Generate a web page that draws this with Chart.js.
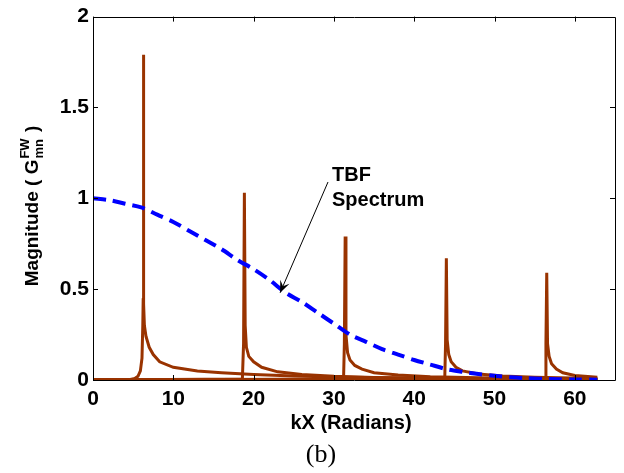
<!DOCTYPE html>
<html>
<head>
<meta charset="utf-8">
<script src="https://cdn.jsdelivr.net/npm/chart.js@4.4.1/dist/chart.umd.min.js"></script>
<style>
  html, body { margin: 0; padding: 0; background: #fff; }
  #wrap { width: 624px; height: 473px; }
</style>
</head>
<body>
<div id="wrap"><canvas id="chart" width="624" height="473"></canvas></div>
<script>
(function () {
  'use strict';

  // TBF spectrum (blue dashed)
  const tbfX = [0, 2, 4, 6, 8, 10, 12, 14, 16, 18, 20, 22, 24, 26, 28, 30, 32, 34, 36, 38, 40, 42, 44, 46, 48, 50, 52, 54, 56, 58, 60, 62.8];
  const tbfY = [1.0, 0.99, 0.97, 0.95, 0.91, 0.87, 0.82, 0.77, 0.72, 0.66, 0.61, 0.55, 0.48, 0.43, 0.37, 0.31, 0.25, 0.21, 0.17, 0.14, 0.11, 0.085, 0.06, 0.045, 0.033, 0.023, 0.015, 0.01, 0.007, 0.004, 0.003, 0.002];

  // resonance curves (brown)
  const peak1X = [0, 4.5, 5.2, 5.6, 5.9, 6.1, 6.2, 6.25, 6.28, 6.32, 6.4, 6.6, 7.0, 7.5, 8.3, 10, 13, 16, 20, 25, 30, 40, 50, 62.8];
  const peak1Y = [0, 0.002, 0.008, 0.02, 0.05, 0.12, 0.3, 0.45, 1.79, 0.42, 0.3, 0.24, 0.18, 0.14, 0.1, 0.07, 0.05, 0.04, 0.03, 0.022, 0.016, 0.01, 0.006, 0.003];

  const peak2X = [0, 18.6, 18.75, 18.85, 18.95, 19.1, 19.4, 20, 21, 23, 26, 30, 35, 45, 62.8];
  const peak2Y = [0, 0.005, 0.2, 1.03, 0.3, 0.18, 0.13, 0.1, 0.07, 0.045, 0.03, 0.02, 0.014, 0.008, 0.004];

  const peak3X = [0, 31.2, 31.3, 31.4, 31.5, 31.7, 32, 32.6, 33.5, 35, 38, 42, 48, 62.8];
  const peak3Y = [0, 0.005, 0.2, 0.79, 0.25, 0.15, 0.11, 0.08, 0.06, 0.04, 0.027, 0.018, 0.012, 0.006];

  const peak4X = [0, 43.8, 43.9, 44.0, 44.1, 44.3, 44.6, 45.2, 46, 48, 51, 55, 62.8];
  const peak4Y = [0, 0.005, 0.2, 0.67, 0.22, 0.14, 0.1, 0.07, 0.05, 0.033, 0.022, 0.015, 0.008];

  const peak5X = [0, 56.3, 56.4, 56.5, 56.6, 56.8, 57.1, 57.7, 58.5, 60, 62.8];
  const peak5Y = [0, 0.005, 0.2, 0.59, 0.2, 0.13, 0.09, 0.06, 0.04, 0.025, 0.015];

  const baseX = [0, 62.8];
  const baseY = [0, 0];

  const xTicks = [0, 10, 20, 30, 40, 50, 60];
  const yTicks = [0, 0.5, 1, 1.5, 2];

  const BROWN = '#993300';
  const BLUE = '#0000ff';
  const SANS = '"Liberation Sans", Arial, sans-serif';

  function pts(xs, ys) {
    return xs.map((x, i) => ({ x: x, y: ys[i] }));
  }

  function brown(xs, ys, w) {
    return {
      data: pts(xs, ys),
      borderColor: BROWN,
      borderWidth: w,
      pointRadius: 0,
      tension: 0,
      fill: false
    };
  }

  // box, inside ticks, titles and annotation
  const decorPlugin = {
    id: 'decor',
    afterDraw(chart) {
      const ctx = chart.ctx;
      const a = chart.chartArea;
      const xs = chart.scales.x;
      const ys = chart.scales.y;
      const tl = 5;

      ctx.save();
      ctx.strokeStyle = '#000';
      ctx.lineWidth = 1;
      ctx.beginPath();
      ctx.rect(Math.round(a.left) + 0.5, Math.round(a.top) + 0.5, Math.round(a.right - a.left), Math.round(a.bottom - a.top));
      xTicks.forEach((v) => {
        const px = Math.round(xs.getPixelForValue(v)) + 0.5;
        ctx.moveTo(px, a.bottom); ctx.lineTo(px, a.bottom - tl);
        ctx.moveTo(px, a.top); ctx.lineTo(px, a.top + tl);
      });
      yTicks.forEach((v) => {
        const py = Math.round(ys.getPixelForValue(v)) + 0.5;
        ctx.moveTo(a.left, py); ctx.lineTo(a.left + tl, py);
        ctx.moveTo(a.right, py); ctx.lineTo(a.right - tl, py);
      });
      ctx.stroke();

      // x title
      ctx.fillStyle = '#000';
      ctx.font = 'bold 20px ' + SANS;
      ctx.textAlign = 'center';
      ctx.textBaseline = 'middle';
      ctx.fillText('kX (Radians)', 351, 423);

      // caption
      ctx.font = '26px "Liberation Serif", "Times New Roman", serif';
      ctx.fillText('(b)', 321, 455);

      // y title with super/subscript
      ctx.save();
      ctx.translate(33, 206);
      ctx.rotate(-Math.PI / 2);
      ctx.textAlign = 'left';
      ctx.textBaseline = 'middle';
      const main1 = 'Magnitude ( G';
      const bigFont = 'bold 19px ' + SANS;
      const smallFont = 'bold 13px ' + SANS;
      ctx.font = bigFont;
      const w1 = ctx.measureText(main1).width;
      ctx.font = smallFont;
      const wScript = Math.max(ctx.measureText('FW').width, ctx.measureText('mn').width);
      ctx.font = bigFont;
      const wEnd = ctx.measureText(' )').width;
      const total = w1 + wScript + 2 + wEnd;
      const x0 = -total / 2;
      ctx.fillText(main1, x0, 0);
      ctx.font = smallFont;
      ctx.fillText('FW', x0 + w1 + 1, -8);
      ctx.fillText('mn', x0 + w1 + 1, 6);
      ctx.font = bigFont;
      ctx.fillText(' )', x0 + w1 + wScript + 2, 0);
      ctx.restore();

      // annotation
      ctx.font = 'bold 20px ' + SANS;
      ctx.textAlign = 'left';
      ctx.textBaseline = 'middle';
      ctx.fillText('TBF', 332, 175);
      ctx.fillText('Spectrum', 332, 200);

      const tipX = xs.getPixelForValue(23.3);
      const tipY = ys.getPixelForValue(0.48);
      const sx = 328, sy = 182;
      ctx.beginPath();
      ctx.moveTo(sx, sy);
      ctx.lineTo(tipX, tipY);
      ctx.stroke();
      const ang = Math.atan2(tipY - sy, tipX - sx);
      const hl = 12, hw = 5;
      ctx.beginPath();
      ctx.moveTo(tipX, tipY);
      ctx.lineTo(tipX - hl * Math.cos(ang) + hw * Math.sin(ang), tipY - hl * Math.sin(ang) - hw * Math.cos(ang));
      ctx.lineTo(tipX - hl * 0.6 * Math.cos(ang), tipY - hl * 0.6 * Math.sin(ang));
      ctx.lineTo(tipX - hl * Math.cos(ang) - hw * Math.sin(ang), tipY - hl * Math.sin(ang) + hw * Math.cos(ang));
      ctx.closePath();
      ctx.fill();
      ctx.restore();
    }
  };

  const ctx = document.getElementById('chart').getContext('2d');

  window.tbfChart = new Chart(ctx, {
    type: 'line',
    data: {
      datasets: [
        {
          data: pts(tbfX, tbfY),
          borderColor: BLUE,
          borderWidth: 4,
          borderDash: [13, 7],
          pointRadius: 0,
          tension: 0.3,
          fill: false
        },
        brown(peak1X, peak1Y, 3),
        brown(peak2X, peak2Y, 3),
        brown(peak3X, peak3Y, 3),
        brown(peak4X, peak4Y, 3),
        brown(peak5X, peak5Y, 3),
        brown(baseX, baseY, 4)
      ]
    },
    options: {
      responsive: false,
      animation: false,
      layout: { padding: { left: 0, right: 9, top: 15, bottom: 0 } },
      plugins: {
        legend: { display: false },
        tooltip: { enabled: false }
      },
      scales: {
        x: {
          type: 'linear',
          min: 0,
          max: 65,
          grid: { display: false, drawTicks: false },
          border: { display: false },
          afterBuildTicks(scale) {
            scale.ticks = xTicks.map((v) => ({ value: v }));
          },
          afterFit(scale) { scale.height = 93; },
          ticks: {
            color: '#000',
            padding: 7,
            maxRotation: 0,
            callback: (v) => String(v),
            font: { family: SANS, size: 21, weight: 'bold' }
          }
        },
        y: {
          min: 0,
          max: 2,
          grid: { display: false, drawTicks: false },
          border: { display: false },
          afterBuildTicks(scale) {
            scale.ticks = yTicks.map((v) => ({ value: v }));
          },
          afterFit(scale) { scale.width = 93; },
          ticks: {
            color: '#000',
            padding: 4,
            callback: (v) => String(v),
            font: { family: SANS, size: 21, weight: 'bold' }
          }
        }
      }
    },
    plugins: [decorPlugin]
  });

})();
</script>
</body>
</html>
